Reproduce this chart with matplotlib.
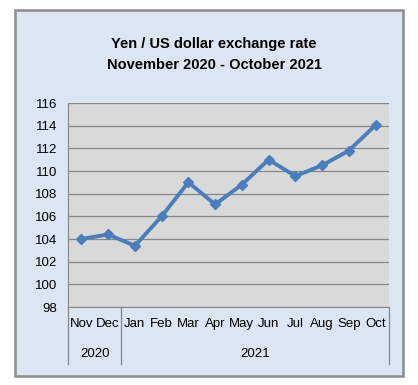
import matplotlib.pyplot as plt
from matplotlib.patches import Rectangle
import matplotlib.transforms as mtransforms

months = ["Nov", "Dec", "Jan", "Feb", "Mar", "Apr", "May", "Jun", "Jul", "Aug", "Sep", "Oct"]
rates = [104.0, 104.4, 103.4, 106.0, 109.0, 107.05, 108.8, 111.0, 109.55, 110.5, 111.8, 114.05]
years = ["2020", "2021"]
year_counts = [2, 10]
y_ticks = list(range(98, 117, 2))

plt.rcParams["font.family"] = ["Liberation Sans", "DejaVu Sans"]

fig = plt.figure(figsize=(4.18, 3.85), dpi=100)

# outer chart frame
fig.patches.append(Rectangle((15 / 418, 1 - 376 / 385), 388 / 418, 366 / 385,
                             transform=fig.transFigure, facecolor="#DCE6F2",
                             edgecolor="#8C8C8C", linewidth=1.8, zorder=-5))

ax = fig.add_axes([68 / 418, 1 - 307 / 385, 321 / 418, 204 / 385])
ax.set_zorder(2)
ax.set_facecolor("#D9D9D9")

x = list(range(len(months)))
ax.plot(x, rates, color="#4A7EBB", linewidth=2.8, marker="D", markersize=5.5,
        markerfacecolor="#4A7EBB", markeredgecolor="#4A7EBB", zorder=3)

ax.set_xlim(-0.5, len(months) - 0.5)
ax.set_ylim(98, 116)
ax.set_yticks(y_ticks)
ax.tick_params(axis="y", length=0, labelsize=9.5, pad=8)
ax.grid(axis="y", color="#868686", linewidth=0.9)
ax.set_axisbelow(True)

ax.set_xticks(x)
ax.set_xticklabels(months, fontsize=9.5)
ax.tick_params(axis="x", length=0, pad=8)

for side in ["top", "right"]:
    ax.spines[side].set_visible(False)
ax.spines["left"].set_color("#868686")
ax.spines["bottom"].set_color("#868686")

# year row with separators
trans = mtransforms.blended_transform_factory(ax.transData, ax.transAxes)
depth = -(364 - 307) / 204
start = -0.5
ax.plot([start, start], [0, depth], transform=trans, color="#868686",
        linewidth=0.9, clip_on=False)
for yr, n in zip(years, year_counts):
    end = start + n
    ax.plot([end, end], [0, depth], transform=trans, color="#868686",
            linewidth=0.9, clip_on=False)
    ax.text((start + end) / 2, -(354 - 307) / 204, yr, transform=trans,
            ha="center", va="center", fontsize=9.5)
    start = end

fig.text(0.512, 1 - 44 / 385, "Yen / US dollar exchange rate",
         ha="center", va="center", fontsize=10.5, fontweight="bold")
fig.text(0.512, 1 - 65 / 385, "November 2020 - October 2021",
         ha="center", va="center", fontsize=10.5, fontweight="bold")

fig.savefig("out.png", dpi=100)
